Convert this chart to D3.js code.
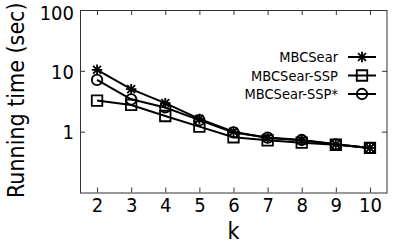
<!DOCTYPE html>
<html>
<head>
<meta charset="utf-8">
<script src="https://cdn.jsdelivr.net/npm/d3@7"></script>
<style>
  body { margin: 0; background: #fff; }
  text { font-family: "DejaVu Sans Condensed", "DejaVu Sans", Verdana, sans-serif; font-stretch: semi-condensed; fill: #000; }
  .frame { fill: none; stroke: #333; stroke-width: 1; }
  .tick line { stroke: #333; }
  .series { fill: none; stroke: #000; stroke-width: 2; }
  .mark { fill: none; stroke: #000; stroke-width: 1.8; }
</style>
</head>
<body>
<svg width="407" height="244"></svg>
<script>
// chart data
var ks = [2, 3, 4, 5, 6, 7, 8, 9, 10];
var seriesNames = ["MBCSear", "MBCSear-SSP", "MBCSear-SSP*"];
var mbcsear   = [10.4, 5.0, 2.94, 1.62, 1.0, 0.79, 0.72, 0.62, 0.54];
var mbcsearSsp = [3.24, 2.75, 1.81, 1.21, 0.81, 0.72, 0.66, 0.61, 0.54];
var mbcsearSspStar = [7.1, 3.4, 2.5, 1.55, 0.97, 0.8, 0.73, 0.62, 0.54];
var yTicks = [1, 10, 100];

var svg = d3.select("svg"),
    margin = {top: 10, right: 20, bottom: 51.5, left: 80},
    width = +svg.attr("width") - margin.left - margin.right,
    height = +svg.attr("height") - margin.top - margin.bottom;

var x = d3.scaleLinear().domain([1.5, 10.5]).range([0, width]),
    y = d3.scaleLog().domain([0.1, 100]).range([height, 0]);

var chart = svg.append("g")
    .attr("transform", "translate(" + margin.left + "," + margin.top + ")");

// axes with inward ticks
chart.append("g")
    .attr("class", "x axis")
    .attr("transform", "translate(0," + height + ")")
    .call(d3.axisBottom(x).tickValues(ks).tickSize(-5).tickPadding(5).tickFormat(d3.format("d")))
    .call(function(g) { g.select(".domain").remove(); })
    .selectAll("text").attr("font-size", 20).attr("dy", "0.71em");

chart.append("g")
    .attr("class", "x axis")
    .call(d3.axisTop(x).tickValues(ks).tickSize(-5).tickFormat(""))
    .call(function(g) { g.select(".domain").remove(); });

chart.append("g")
    .attr("class", "y axis")
    .call(d3.axisLeft(y).tickValues(yTicks).tickSize(-5).tickPadding(6).tickFormat(d3.format("d")))
    .call(function(g) { g.select(".domain").remove(); })
    .selectAll("text")
      .attr("font-size", 20)
      .attr("dy", function(d) { return d === 100 ? "0.45em" : "0.36em"; });

chart.append("g")
    .attr("class", "y axis")
    .attr("transform", "translate(" + width + ",0)")
    .call(d3.axisRight(y).tickValues(yTicks).tickSize(-5).tickFormat(""))
    .call(function(g) { g.select(".domain").remove(); });

chart.append("rect")
    .attr("class", "frame")
    .attr("x", 0.5).attr("y", 0.5)
    .attr("width", width - 0.5).attr("height", height);

// axis titles
svg.append("text")
    .attr("transform", "translate(24," + (margin.top + height / 2 - 1) + ") rotate(-90)")
    .attr("text-anchor", "middle")
    .attr("font-size", 23)
    .text("Running time (sec)");

svg.append("text")
    .attr("x", margin.left + width / 2)
    .attr("y", 239)
    .attr("text-anchor", "middle")
    .attr("font-size", 23)
    .text("k");

// marker shapes
function star(s) {
  var r = s / 2;
  return "M" + -r + ",0H" + r + "M0," + -r + "V" + r +
    "M" + -r * 0.75 + "," + -r * 0.75 + "L" + r * 0.75 + "," + r * 0.75 +
    "M" + -r * 0.75 + "," + r * 0.75 + "L" + r * 0.75 + "," + -r * 0.75;
}
function square(s) {
  var r = s / 2;
  return "M" + -r + "," + -r + "H" + r + "V" + r + "H" + -r + "Z";
}
function circle(s) {
  var r = s / 2;
  return "M" + r + ",0A" + r + "," + r + " 0 1,1 " + -r + ",0A" + r + "," + r + " 0 1,1 " + r + ",0Z";
}

var series = [
  {name: seriesNames[0], values: mbcsear, shape: star},
  {name: seriesNames[1], values: mbcsearSsp, shape: square},
  {name: seriesNames[2], values: mbcsearSspStar, shape: circle}
];

var line = d3.line()
    .x(function(d, i) { return x(ks[i]); })
    .y(function(d) { return y(d); });

series.forEach(function(s) {
  chart.append("path")
      .attr("class", "series")
      .attr("d", line(s.values));

  chart.selectAll(null)
      .data(s.values)
    .enter().append("path")
      .attr("class", "mark")
      .attr("transform", function(d, i) { return "translate(" + x(ks[i]) + "," + y(d) + ")"; })
      .attr("d", s.shape(10.5));
});

// legend
var legend = svg.append("g")
    .attr("transform", "translate(338,57)");

var item = legend.selectAll(".item")
    .data(series)
  .enter().append("g")
    .attr("class", "item")
    .attr("transform", function(d, i) { return "translate(0," + i * 18.5 + ")"; });

item.append("text")
    .attr("text-anchor", "end")
    .attr("dy", "0.36em")
    .attr("font-size", 14.5)
    .text(function(d) { return d.name; });

item.append("line")
    .attr("class", "series")
    .attr("x1", 10).attr("x2", 38)
    .attr("y1", 0).attr("y2", 0);

item.append("path")
    .attr("class", "mark")
    .attr("transform", "translate(24,0)")
    .attr("d", function(d) { return d.shape(10.5); });
</script>
</body>
</html>
